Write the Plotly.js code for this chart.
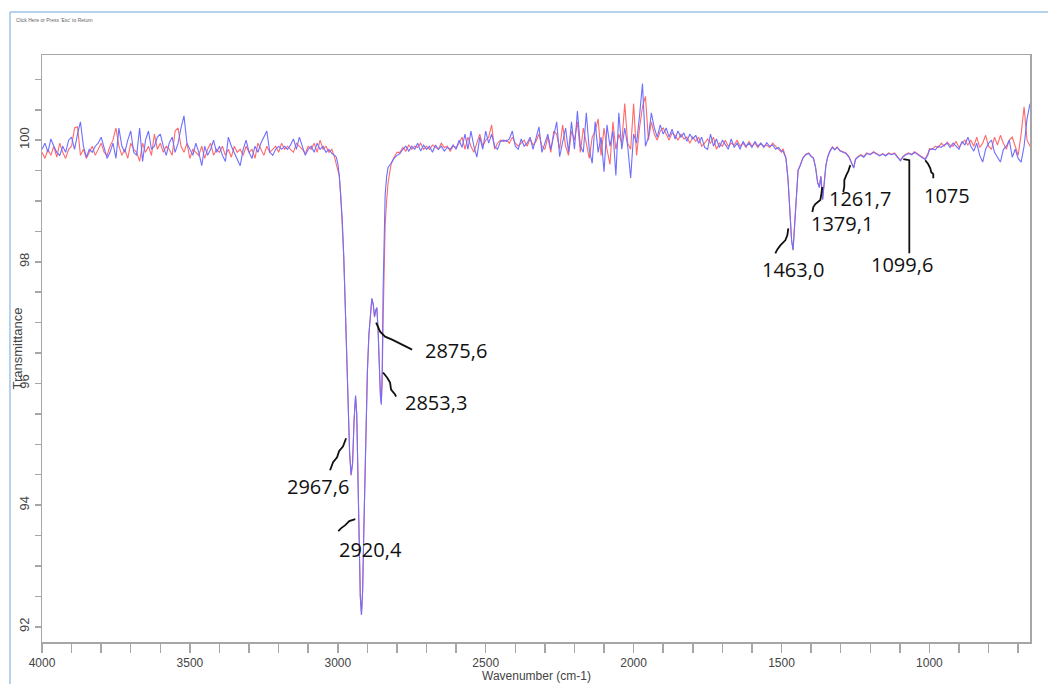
<!DOCTYPE html>
<html>
<head>
<meta charset="utf-8">
<script src="https://cdn.plot.ly/plotly-3.0.1.min.js"></script>
<style>html,body{margin:0;padding:0;background:#fff;}#chart{width:1048px;height:684px;}</style>
</head>
<body>
<div id="chart"></div>
<script>
// ---------- data ----------
// Segment A: 4000 -> 3010 cm-1, every 10 cm-1
const blueA = [99.85,99.95,99.8,100.02,99.9,99.8,99.75,99.9,99.8,100.0,
 100.05,99.85,100.1,100.3,99.9,99.72,99.85,99.8,99.9,99.95,
 100.05,99.85,99.7,99.8,99.95,99.7,100.2,99.9,99.8,100.0,
 100.15,99.8,99.75,100.2,99.65,100.0,100.15,99.85,99.9,100.05,
 100.1,99.9,99.75,99.95,100.05,99.8,99.95,100.2,100.4,99.95,
 99.85,99.75,99.95,99.8,99.58,99.9,99.75,99.85,100.0,99.8,
 99.9,99.75,99.65,100.05,99.9,99.8,99.7,99.58,99.85,100.0,
 99.8,99.7,99.9,99.8,99.95,100.05,100.15,99.8,99.75,99.85,
 99.9,99.85,99.9,99.85,99.92,100.02,99.85,100.05,99.9,99.75,
 99.85,99.9,99.8,99.95,99.85,99.9,99.8,99.85,99.78,99.75];
const redA = [99.8,99.7,99.85,99.75,99.9,99.72,99.95,99.8,99.7,99.85,
 99.9,100.2,100.22,99.75,99.85,99.7,99.8,99.9,99.75,99.85,
 99.95,99.8,99.75,99.9,100.0,100.2,99.9,99.75,99.85,99.7,
 99.95,99.85,99.8,99.65,99.95,99.8,99.9,99.75,100.1,99.85,
 99.95,99.8,99.9,99.85,99.75,100.15,100.2,99.9,99.8,99.95,
 99.7,99.85,99.8,99.75,99.9,99.7,99.85,99.95,99.75,99.85,
 99.8,99.9,99.75,99.85,99.72,99.9,99.8,99.85,99.75,99.9,
 99.8,99.85,99.7,99.95,99.85,99.75,99.9,99.8,99.85,99.9,
 99.8,99.95,99.85,99.9,99.85,99.8,99.95,99.9,99.85,99.78,
 99.9,99.85,99.95,99.8,100.0,99.85,99.9,99.8,99.85,99.7];
// Segment B: C-H stretching bands
const wnB = [3005,3000,2995,2990,2985,2980,2975,2970,2965,2960,
 2955,2950,2945,2940,2936,2932,2928,2924,2920,2916,
 2912,2908,2904,2900,2895,2890,2885,2880,2876,2872,
 2868,2864,2860,2856,2853,2850,2847,2844,2840,2835,
 2830,2820,2810,2800];
const blueB = [99.72,99.62,99.42,99.1,98.7,98.1,97.35,96.4,95.5,94.85,
 94.5,94.7,95.4,95.8,95.5,94.4,93.3,92.5,92.2,92.6,
 93.6,94.6,95.5,96.2,96.8,97.2,97.4,97.3,97.1,97.2,
 97.25,96.9,96.3,95.8,95.65,96.2,97.5,98.4,99.1,99.4,
 99.55,99.62,99.7,99.75];
const redB = [99.6,99.55,99.41,99.09,98.69,98.09,97.34,96.39,95.49,94.84,
 94.49,94.69,95.39,95.79,95.49,94.39,93.29,92.5,92.2,92.6,
 93.6,94.6,95.49,96.19,96.79,97.19,97.39,97.29,97.09,97.19,
 97.24,96.89,96.3,95.82,95.68,96.0,97.0,97.8,98.6,99.0,
 99.3,99.6,99.72,99.8];
// Segment C: 2790 -> 1500 cm-1, every 10 cm-1
const blueC = [99.78,99.85,99.9,99.82,99.9,99.85,99.95,99.82,99.92,99.85,
 99.9,99.8,99.92,99.85,99.9,99.82,99.88,99.85,99.92,99.85,
 100.0,99.88,100.1,99.85,100.15,99.9,99.72,100.05,99.85,100.15,
 99.95,100.1,99.9,99.85,99.98,100.0,99.98,100.02,100.15,99.9,
 99.85,100.02,99.9,99.95,100.05,99.85,100.05,100.22,99.8,99.95,
 100.1,99.85,100.05,100.3,99.73,99.95,100.2,99.8,100.3,99.85,
 100.48,99.9,99.8,100.45,99.85,99.62,100.3,99.8,100.05,99.48,
 100.25,99.9,100.15,99.42,100.45,99.85,100.2,99.9,99.38,100.1,
 99.95,100.4,100.93,99.9,100.05,100.45,100.2,100.05,100.25,100.1,
 100.2,100.05,100.18,100.02,100.15,100.05,100.12,99.98,100.1,100.02,
 100.08,99.95,100.05,99.88,99.85,100.1,99.9,100.02,99.88,100.0,
 99.92,99.85,100.02,99.88,99.95,99.85,99.98,99.9,99.95,99.88,
 99.98,99.9,99.95,99.88,99.96,99.9,99.92,99.85,99.88,99.82];
const redC = [99.8,99.88,99.82,99.92,99.85,99.9,99.88,99.95,99.85,99.9,
 99.85,99.92,99.88,99.85,99.95,99.88,99.9,99.82,99.9,99.88,
 99.95,100.05,99.85,100.05,99.9,99.8,99.95,100.1,99.9,100.0,
 100.05,100.25,99.85,99.95,100.0,99.98,100.0,99.95,100.05,99.95,
 99.9,99.95,100.0,99.9,100.02,99.92,99.98,100.1,99.9,99.85,
 100.05,99.8,100.15,100.1,99.85,100.25,99.9,99.75,100.15,100.0,
 100.3,99.8,100.2,99.95,99.7,100.05,100.15,100.35,99.75,100.2,
 99.85,99.6,100.3,99.85,100.1,99.95,100.6,99.95,99.85,100.6,
 99.75,100.2,100.55,100.72,100.0,100.3,100.1,100.0,100.15,100.2,
 100.1,100.0,100.12,100.08,100.0,100.1,100.02,100.05,99.95,100.05,
 99.98,100.05,99.9,99.95,100.02,99.95,100.05,99.85,99.95,99.9,
 100.0,99.9,99.95,99.92,100.0,99.9,99.95,99.88,99.98,99.9,
 99.95,99.88,99.95,99.9,99.92,99.88,99.95,99.9,99.85,99.8];
// Segment D: fingerprint bands 1495 -> 1000 cm-1
const wnD = [1495,1485,1478,1472,1466,1461,1456,1450,1444,1437,
 1428,1418,1408,1400,1392,1385,1378,1372,1367,1361,
 1356,1350,1344,1336,1328,1320,1312,1302,1292,1282,
 1272,1262,1256,1250,1242,1232,1222,1212,1200,1189,
 1178,1168,1158,1148,1138,1128,1118,1108,1098,1090,
 1080,1070,1060,1050,1040,1030,1020,1014,1005,1000];
const blueD = [99.82,99.7,99.35,98.9,98.35,98.19,98.6,99.2,99.5,99.58,
 99.7,99.76,99.78,99.73,99.7,99.55,99.3,99.22,99.4,99.02,
 99.3,99.58,99.72,99.82,99.88,99.84,99.88,99.82,99.8,99.78,
 99.72,99.6,99.54,99.68,99.72,99.75,99.72,99.78,99.76,99.8,
 99.77,99.74,99.77,99.74,99.78,99.76,99.78,99.72,99.66,99.72,
 99.76,99.78,99.76,99.8,99.76,99.73,99.7,99.68,99.76,99.84];
const redD = [99.86,99.71,99.36,98.91,98.36,98.2,98.61,99.21,99.51,99.59,
 99.71,99.77,99.79,99.74,99.71,99.56,99.31,99.23,99.41,99.03,
 99.31,99.59,99.73,99.83,99.89,99.85,99.89,99.83,99.81,99.79,
 99.73,99.61,99.55,99.69,99.73,99.76,99.73,99.79,99.77,99.81,
 99.78,99.75,99.78,99.75,99.79,99.77,99.79,99.73,99.67,99.73,
 99.77,99.79,99.77,99.81,99.77,99.74,99.71,99.69,99.78,99.86];
// Segment E: 990 -> 660 cm-1, every 10 cm-1
const blueE = [99.86,99.84,99.9,99.88,99.92,99.95,99.88,99.95,99.9,99.85,
 99.98,99.92,100.05,99.9,99.82,99.95,99.75,99.64,99.85,99.95,
 100.0,99.8,99.72,99.64,99.85,99.9,100.0,99.72,99.85,99.7,
 99.64,99.9,100.35,100.6];
const redE = [99.85,99.9,99.88,99.95,99.9,99.97,99.92,99.9,99.98,99.88,
 99.95,100.0,99.92,100.0,99.9,100.05,99.88,99.95,100.08,99.9,
 99.85,100.05,99.92,100.08,99.95,99.85,100.0,100.05,99.9,99.75,
 100.1,100.55,100.0,99.9];

// peak labels (text, leader tip wavenumber, leader tip transmittance)
const peakText = ['2875,6','2853,3','2967,6','2920,4','1463,0','1379,1','1261,7','1099,6','1075'];
const peakWn   = [2870.5, 2847, 2972, 2941, 1477, 1362, 1267.5, 1068, 1014];
const peakT    = [97.0, 96.18, 95.1, 93.77, 98.55, 99.23, 99.59, 99.67, 99.67];

// ---------- build ----------
function grid(start, step, n){ const a=[]; for(let i=0;i<n;i++) a.push(start+step*i); return a; }
const wnA = grid(4000,-10,blueA.length);
const wnC = grid(2790,-10,blueC.length);
const wnE = grid(990,-10,blueE.length);
const wn   = [].concat(wnA, wnB, wnC, wnD, wnE);
const blue = [].concat(blueA, blueB, blueC, blueD, blueE);
const red  = [].concat(redA, redB, redC, redD, redE);

// text placement relative to leader tip (screen px: right, down)
const textOff = [[80,28],[53,30],[-28,48],[15,30],[5,41],[20,36],[10,33],[-7,104],[22,35]];
// leader polylines relative to tip (screen px: right, down)
const leaders = [
  [[0,0],[4,9],[9,14],[16,17],[26,22],[36,27]],
  [[0,0],[4,5],[7,10],[8,17],[12,22],[13,24]],
  [[0,0],[-3,8],[-7,13],[-9,19],[-13,24],[-16,32]],
  [[0,0],[-6,2],[-10,6],[-14,9],[-17,12]],
  [[0,0],[-1,7],[-3,12],[-8,17],[-11,21],[-13,25]],
  [[0,0],[-1,7],[-2,13],[-7,17],[-9,20],[-10,25]],
  [[0,0],[-2,6],[-4,10],[-6,15],[-6,21],[-7,27]],
  [[-6,-1],[0,0],[0,93]],
  [[0,0],[3,4],[5,8],[6,12],[8,14],[8,18]]
];

const annotations = peakText.map((t,i)=>({
  x: peakWn[i], y: peakT[i], xref:'x', yref:'y', text: t, showarrow:false,
  xshift: textOff[i][0], yshift: -textOff[i][1], borderpad: 0,
  font: {family: 'Open Sans, sans-serif', size: 20, color: '#111'}
}));
annotations.push({
  xref:'paper', yref:'paper', x:-0.028, y:1.0596, xanchor:'left', yanchor:'middle',
  text:"Click Here or Press 'Esc' to Return", showarrow:false,
  font:{family:'Liberation Sans, Arial, sans-serif', size:5, color:'#666'}
});
annotations.push({
  xref:'paper', yref:'paper', x:-0.0243, y:0.5, xanchor:'center', yanchor:'middle',
  text:'Transmittance', textangle:-90, showarrow:false,
  font:{family:'Liberation Sans, Arial, sans-serif', size:13, color:'#444'}
});
annotations.push({
  xref:'paper', yref:'paper', x:0.5, y:-0.0712, xanchor:'center', yanchor:'bottom',
  text:'Wavenumber (cm-1)', showarrow:false, borderpad:0,
  font:{family:'Liberation Sans, Arial, sans-serif', size:12, color:'#444'}
});

const leaderShapes = leaders.map((pts,i)=>({
  type:'path', xref:'x', yref:'y', xsizemode:'pixel', ysizemode:'pixel',
  xanchor: peakWn[i], yanchor: peakT[i],
  path: pts.map((p,k)=>(k?'L':'M')+p[0]+','+(-p[1])).join(' '),
  line:{color:'#111', width:1.8}
}));

const traces = [
  {x: wn, y: red, type:'scatter', mode:'lines', line:{color:'rgb(255,105,105)', width:1.1}, hoverinfo:'skip'},
  {x: wn, y: blue, type:'scatter', mode:'lines', line:{color:'rgb(110,110,255)', width:1.1}, hoverinfo:'skip'}
];

const axisFont = {family:'Liberation Sans, Arial, sans-serif', size:13, color:'#444'};
const xTickFont = {family:'Liberation Sans, Arial, sans-serif', size:12, color:'#444'};
const layout = {
  width: 1048, height: 684,
  margin: {l:42, r:18, t:55, b:42},
  paper_bgcolor:'#fff', plot_bgcolor:'#fff',
  showlegend:false,
  xaxis: {
    range:[4000, 660], showgrid:false, zeroline:false,
    showline:true, linecolor:'#a6a6a6', linewidth:1.5, mirror:true,
    ticks:'outside', ticklen:9, tickcolor:'#a6a6a6', tickwidth:1.5,
    tickmode:'array', tickvals:[4000,3500,3000,2500,2000,1500,1000],
    ticktext:['4000','3500','3000','2500','2000','1500','1000'],
    minor:{dtick:100, ticks:'outside', ticklen:9, tickcolor:'#a6a6a6', tickwidth:1.5},
    tickfont: xTickFont, automargin:false
  },
  yaxis: {
    range:[91.75, 101.4], showgrid:false, zeroline:false,
    showline:true, linecolor:'#a6a6a6', linewidth:1.5, mirror:true,
    ticks:'outside', ticklen:6, tickcolor:'#a6a6a6', tickwidth:1.5,
    tickmode:'array', tickvals:[92,94,96,98,100], ticktext:['92','94','96','98','100'],
    minor:{dtick:0.5, ticks:'outside', ticklen:6, tickcolor:'#a6a6a6', tickwidth:1.5},
    tickangle:-90, tickfont: axisFont, automargin:false
  },
  annotations: annotations,
  shapes: [
    {type:'line', xref:'paper', yref:'paper', x0:-0.0324, x1:-0.0324, y0:-0.08, y1:1.0733, line:{color:'#9ec4e8', width:1.5}},
    {type:'line', xref:'paper', yref:'paper', x0:-0.0324, x1:1.02, y0:1.0733, y1:1.0733, line:{color:'#9ec4e8', width:1.5}}
  ].concat(leaderShapes)
};
Plotly.newPlot('chart', traces, layout, {displayModeBar:false, staticPlot:true});
</script>
</body>
</html>
